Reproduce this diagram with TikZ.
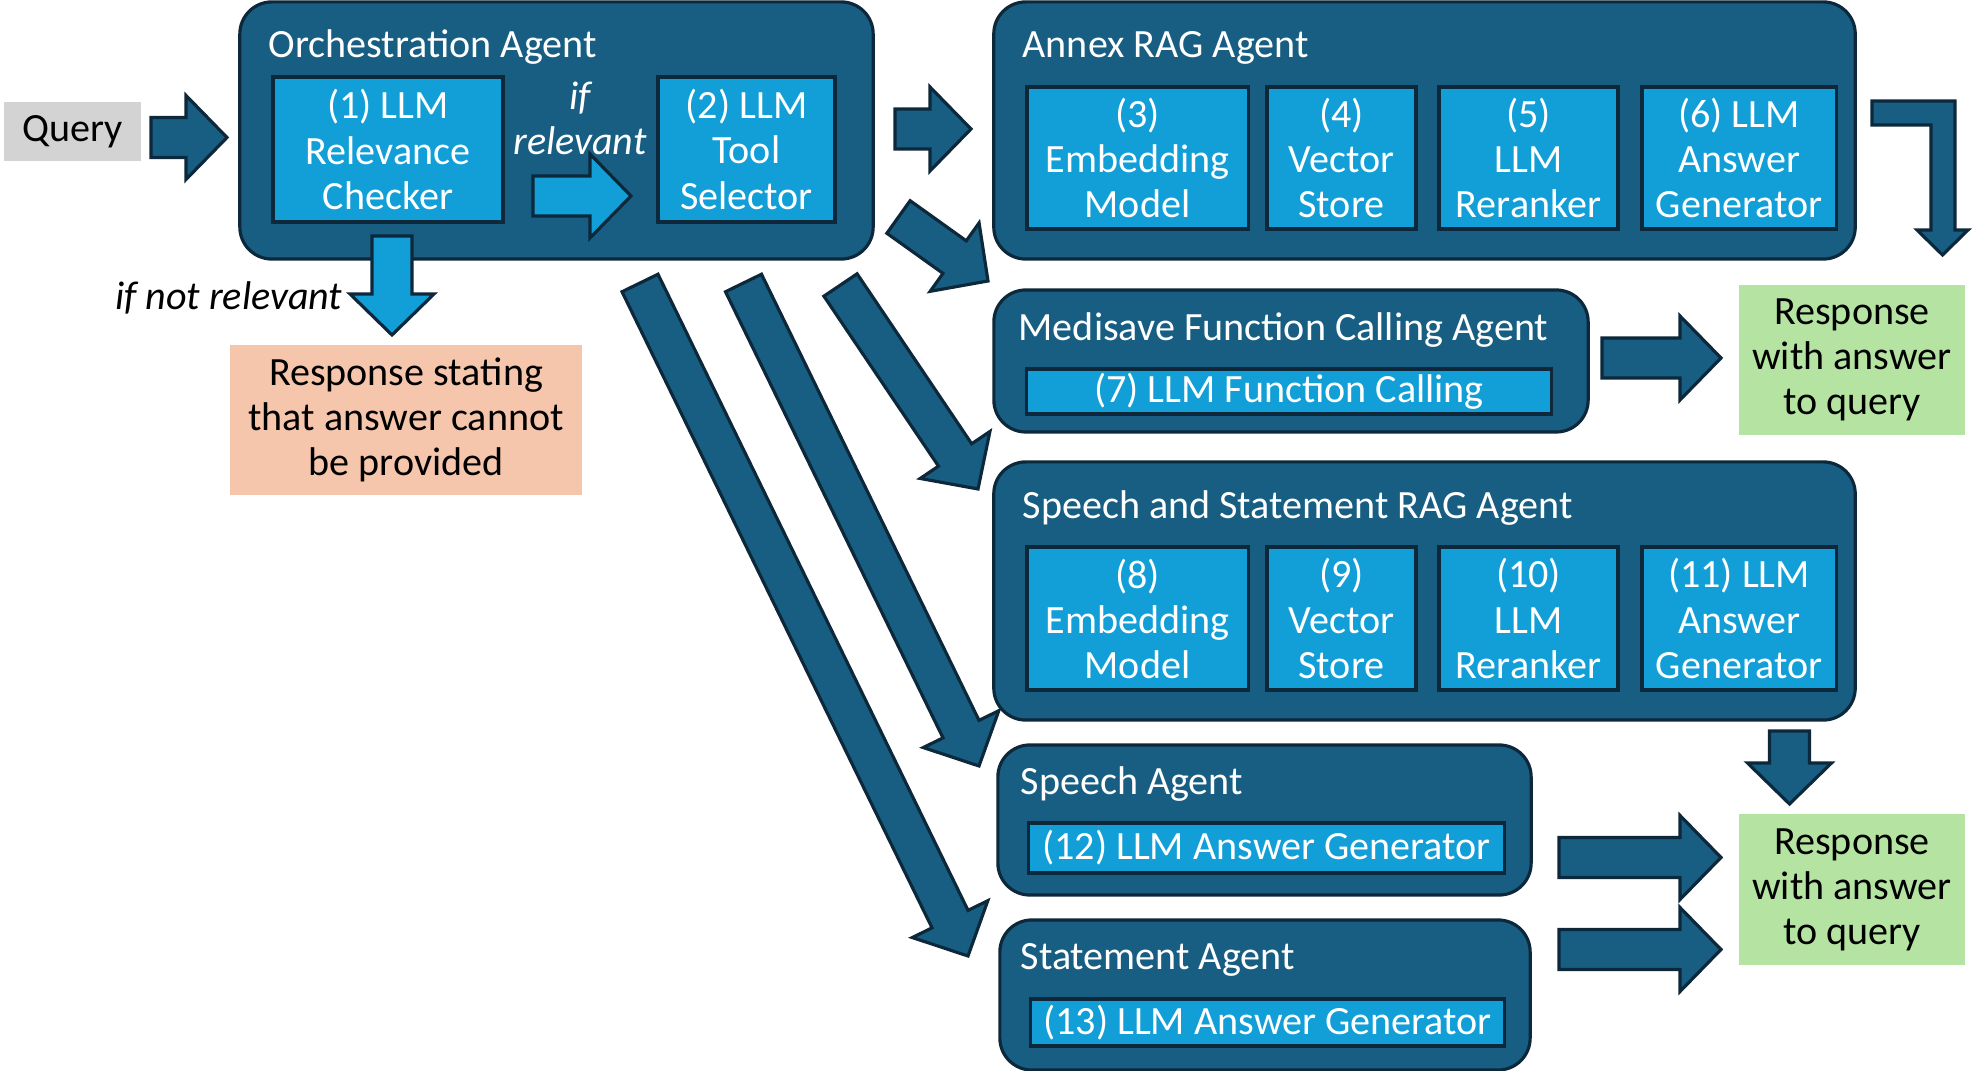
\documentclass[tikz,border=0pt]{standalone}
\usepackage{fontspec}
\setmainfont{Carlito}
\usetikzlibrary{calc}

\definecolor{agentblue}{RGB}{24,94,130}
\definecolor{edgenavy}{RGB}{12,40,58}
\definecolor{toolblue}{RGB}{18,159,215}
\definecolor{querygray}{RGB}{211,211,211}
\definecolor{nosalmon}{RGB}{246,198,172}
\definecolor{okgreen}{RGB}{181,228,162}

% block arrow from a start coordinate to a tip coordinate
\newcommand{\blockarrow}[3][bigarrow]{%
  \coordinate (ba-h) at ($(#3)!0.41cm!(#2)$);
  \draw[#1] ($(#2)!0.2cm!90:(#3)$) -- ($(ba-h)!0.2cm!90:(#3)$) -- ($(ba-h)!0.42cm!90:(#3)$)
    -- (#3) -- ($(ba-h)!0.42cm!-90:(#3)$) -- ($(ba-h)!0.2cm!-90:(#3)$) -- ($(#2)!0.2cm!-90:(#3)$) -- cycle;
}

\begin{document}
\begin{tikzpicture}[x=0.01cm,y=-0.01cm,
every node/.style={align=center,inner sep=0pt,font=\fontsize{11.4}{12.8}\selectfont},
agent/.style={draw=edgenavy,fill=agentblue,line width=0.9pt,rounded corners=0.32cm},
agenttitle/.style={anchor=west,text=white},
tool/.style={draw=edgenavy,fill=toolblue,line width=0.9pt,text=white},
answer/.style={fill=okgreen,minimum width=2.26cm,minimum height=1.5cm},
bigarrow/.style={draw=edgenavy,fill=agentblue,line width=0.9pt},
smallarrow/.style={draw=edgenavy,fill=toolblue,line width=0.9pt}
]
\useasboundingbox (0,0) rectangle (1979,1071);

\node[fill=querygray,minimum width=1.37cm,minimum height=0.58cm] (query) at (72.5,131.5) {Query};

% orchestration
\node[agent,minimum width=6.33cm,minimum height=2.57cm] (orch) at (556.5,130.5) {};
\node[agenttitle] (orchtitle) at (268,47.5) {Orchestration Agent};
\node[tool,minimum width=2.30cm,minimum height=1.45cm] (relcheck) at (388,149.5) {(1) LLM\\Relevance\\Checker};
\node[tool,minimum width=1.77cm,minimum height=1.45cm] (toolsel) at (746.5,149.5) {(2) LLM\\Tool\\Selector};
\node[text=white,font=\fontsize{11.4}{12.8}\selectfont\itshape] (ifrel) at (580,118) {if\\relevant};
\node[anchor=east,font=\fontsize{11.4}{12.8}\selectfont\itshape] (ifnot) at (343,298) {if not relevant};
\node[fill=nosalmon,minimum width=3.52cm,minimum height=1.5cm] (noanswer) at (406,420) {Response stating\\that answer cannot\\be provided};

% annex rag
\node[agent,minimum width=8.61cm,minimum height=2.57cm] (annex) at (1424.5,130.5) {};
\node[agenttitle] (annextitle) at (1022,47.5) {Annex RAG Agent};
\node[tool,minimum width=2.21cm,minimum height=1.42cm] (emb1) at (1137.5,158) {(3)\\Embedding\\Model};
\node[tool,minimum width=1.49cm,minimum height=1.42cm] (vec1) at (1341.5,158) {(4)\\Vector\\Store};
\node[tool,minimum width=1.79cm,minimum height=1.42cm] (rer1) at (1528.5,158) {(5)\\LLM\\Reranker};
\node[tool,minimum width=1.94cm,minimum height=1.42cm] (gen1) at (1739,158) {(6) LLM\\Answer\\Generator};

% medisave
\node[agent,minimum width=5.94cm,minimum height=1.42cm] (medi) at (1291,361) {};
\node[agenttitle] (medititle) at (1018,330.5) {Medisave Function Calling Agent};
\node[tool,minimum width=5.24cm,minimum height=0.45cm] (fcall) at (1289,391.5) {(7) LLM Function Calling};
\node[answer] (resp1) at (1852,360) {Response\\with answer\\to query};

% speech and statement rag
\node[agent,minimum width=8.61cm,minimum height=2.58cm] (ssrag) at (1424.5,591) {};
\node[agenttitle] (ssragtitle) at (1022,508.5) {Speech and Statement RAG Agent};
\node[tool,minimum width=2.21cm,minimum height=1.43cm] (emb2) at (1137.5,618.5) {(8)\\Embedding\\Model};
\node[tool,minimum width=1.49cm,minimum height=1.43cm] (vec2) at (1341.5,618.5) {(9)\\Vector\\Store};
\node[tool,minimum width=1.79cm,minimum height=1.43cm] (rer2) at (1528.5,618.5) {(10)\\LLM\\Reranker};
\node[tool,minimum width=1.94cm,minimum height=1.43cm] (gen2) at (1739,618.5) {(11) LLM\\Answer\\Generator};

% speech / statement
\node[agent,minimum width=5.33cm,minimum height=1.5cm] (speech) at (1264.5,820) {};
\node[agenttitle] (speechtitle) at (1020,784.5) {Speech Agent};
\node[tool,minimum width=4.75cm,minimum height=0.5cm] (gen3) at (1266.5,848) {(12) LLM Answer Generator};
\node[agent,minimum width=5.30cm,minimum height=1.5cm] (stmt) at (1265,995) {};
\node[agenttitle] (stmttitle) at (1020,959.5) {Statement Agent};
\node[tool,minimum width=4.73cm,minimum height=0.47cm] (gen4) at (1267.5,1022.5) {(13) LLM Answer Generator};
\node[answer] (resp2) at (1852,889.5) {Response\\with answer\\to query};

% arrow ends
\coordinate (q-s) at (151,137.5);    \coordinate (q-e) at (227,137.5);
\coordinate (rel-s) at (533,196);    \coordinate (rel-e) at (631,196);
\coordinate (no-s) at (392,236);     \coordinate (no-e) at (392,335);
\coordinate (ann-s) at (895,129);    \coordinate (ann-e) at (971,129);
\coordinate (med-s) at (898.5,217);  \coordinate (med-e) at (988,281);
\coordinate (ss-s) at (840.5,285);   \coordinate (ss-e) at (978,489);
\coordinate (sp-s) at (743.5,283);   \coordinate (sp-e) at (979,766);
\coordinate (st-s) at (640,283);     \coordinate (st-e) at (968,956);
\coordinate (medout-s) at (1602,358);  \coordinate (medout-e) at (1721,358);
\coordinate (ssout-s) at (1789.5,731); \coordinate (ssout-e) at (1789.5,804);
\coordinate (spout-s) at (1559,857.5); \coordinate (spout-e) at (1721,857.5);
\coordinate (stout-s) at (1559,949.5); \coordinate (stout-e) at (1721,949.5);

\blockarrow{q-s}{q-e}
\blockarrow[smallarrow]{rel-s}{rel-e}
\blockarrow[smallarrow]{no-s}{no-e}
\blockarrow{ann-s}{ann-e}
\blockarrow{med-s}{med-e}
\blockarrow{ss-s}{ss-e}
\blockarrow{sp-s}{sp-e}
\blockarrow{st-s}{st-e}
\blockarrow{medout-s}{medout-e}
\blockarrow{ssout-s}{ssout-e}
\blockarrow{spout-s}{spout-e}
\blockarrow{stout-s}{stout-e}

% bent arrow annex -> response
\draw[bigarrow] (1872,101) -- (1955,101) -- (1955,230) -- (1968,230) -- (1942.5,255)
  -- (1917,230) -- (1931,230) -- (1931,125) -- (1872,125) -- cycle;
\end{tikzpicture}
\end{document}
